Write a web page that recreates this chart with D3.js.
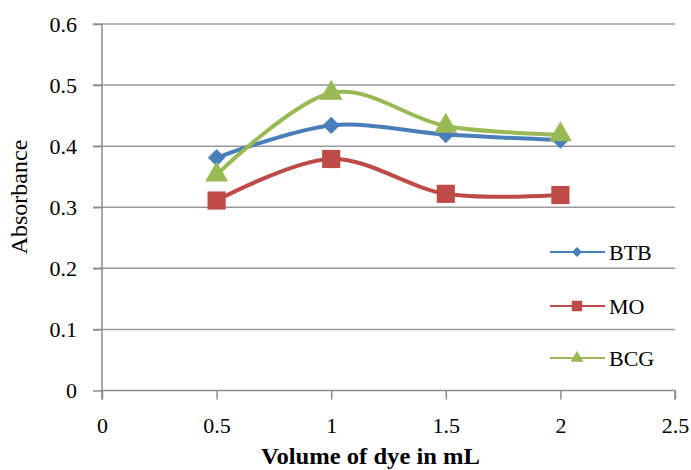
<!DOCTYPE html>
<html>
<head>
<meta charset="utf-8">
<style>
  body { margin: 0; background: #fff; }
  #chart { font-family: 'Liberation Serif', 'Times New Roman', serif; }
  #chart text { fill: #000; }
</style>
</head>
<body>
<div id="chart"></div>
<script src="https://d3js.org/d3.v7.min.js"></script>
<script>
  // data
  var volumes = [0.5, 1, 1.5, 2];
  var btb = [0.381, 0.434, 0.419, 0.41];
  var mo = [0.311, 0.379, 0.322, 0.32];
  var bcg = [0.353, 0.487, 0.433, 0.419];
  var seriesNames = ["BTB", "MO", "BCG"];
  var xTicks = [0, 0.5, 1, 1.5, 2, 2.5];
  var yTicks = [0, 0.1, 0.2, 0.3, 0.4, 0.5, 0.6];

  var colors = ["#4a7ebb", "#be4b48", "#98b954"];
  var symbols = [d3.symbolSquare, d3.symbolSquare, d3.symbolTriangle];
  var rotations = [45, 0, 0];
  var values = [btb, mo, bcg];

  var width = 691, height = 470;
  var svg = d3.select("#chart").append("svg")
    .attr("width", width).attr("height", height);

  var x = d3.scaleLinear().domain([0, 2.5]).range([102, 675]);
  var y = d3.scaleLinear().domain([0, 0.6]).range([390.5, 24]);

  // grid
  svg.append("g").selectAll("line")
    .data(yTicks.filter(function(d) { return d > 0; }))
    .enter().append("line")
    .attr("x1", 93).attr("x2", 675)
    .attr("y1", function(d) { return y(d); })
    .attr("y2", function(d) { return y(d); })
    .attr("stroke", "#9a9a9a").attr("stroke-width", 1.5);

  // y axis
  var yAxis = svg.append("g").attr("transform", "translate(102,0)")
    .call(d3.axisLeft(y).tickValues(yTicks).tickSize(9).tickPadding(16)
      .tickFormat(function(d) { return d === 0 ? "0" : d3.format(".1f")(d); }));
  // x axis
  var xAxis = svg.append("g").attr("transform", "translate(0," + y(0) + ")")
    .call(d3.axisBottom(x).tickValues(xTicks).tickSize(9).tickPadding(18)
      .tickFormat(function(d) { return d === 0 ? "0" : String(d); }));

  [yAxis, xAxis].forEach(function(a) {
    a.select(".domain").attr("stroke", "#8c8c8c").attr("stroke-width", 1.5);
    a.selectAll(".tick line").attr("stroke", "#8c8c8c").attr("stroke-width", 1.5);
    a.selectAll("text").style("font-family", "'Liberation Serif', serif")
      .style("font-size", "22px").attr("fill", "#000");
  });
  xAxis.select(".domain").attr("d", "M102,9V0H675V9");
  yAxis.select(".domain").attr("transform", "translate(0," + y(0.6) + ")")
    .attr("d", "M0,0V" + (y(0) - y(0.6)));

  // series
  var line = d3.line()
    .x(function(d, i) { return x(volumes[i]); })
    .y(function(d) { return y(d); })
    .curve(d3.curveCardinal);

  var markerSize = [150, 330, 230];
  values.forEach(function(vals, s) {
    var g = svg.append("g");
    g.append("path")
      .attr("d", line(vals))
      .attr("fill", "none")
      .attr("stroke", colors[s])
      .attr("stroke-width", 4);
    g.selectAll("path.pt").data(vals).enter().append("path")
      .attr("class", "pt")
      .attr("transform", function(d, i) {
        return "translate(" + x(volumes[i]) + "," + y(d) + ") rotate(" + rotations[s] + ")";
      })
      .attr("d", d3.symbol().type(symbols[s]).size(markerSize[s]))
      .attr("fill", colors[s]);
  });

  // legend
  var legendY = [252, 306, 358];
  var legendSize = [50, 110, 70];
  var legend = svg.append("g");
  seriesNames.forEach(function(name, s) {
    var g = legend.append("g").attr("transform", "translate(0," + legendY[s] + ")");
    g.append("line").attr("x1", 550).attr("x2", 605)
      .attr("stroke", colors[s]).attr("stroke-width", 2);
    g.append("path").attr("transform", "translate(577,0) rotate(" + rotations[s] + ")")
      .attr("d", d3.symbol().type(symbols[s]).size(legendSize[s]))
      .attr("fill", colors[s]);
    g.append("text").attr("x", 609).attr("y", 8)
      .style("font-size", "22px").text(name);
  });

  // axis titles
  svg.append("text")
    .attr("transform", "translate(27,197) rotate(-90)")
    .attr("text-anchor", "middle")
    .style("font-size", "24px")
    .text("Absorbance");

  svg.append("text")
    .attr("x", 261).attr("y", 464)
    .attr("textLength", 219).attr("lengthAdjust", "spacingAndGlyphs")
    .style("font-size", "23px").style("font-weight", "bold")
    .text("Volume of dye in mL");
</script>
</body>
</html>
